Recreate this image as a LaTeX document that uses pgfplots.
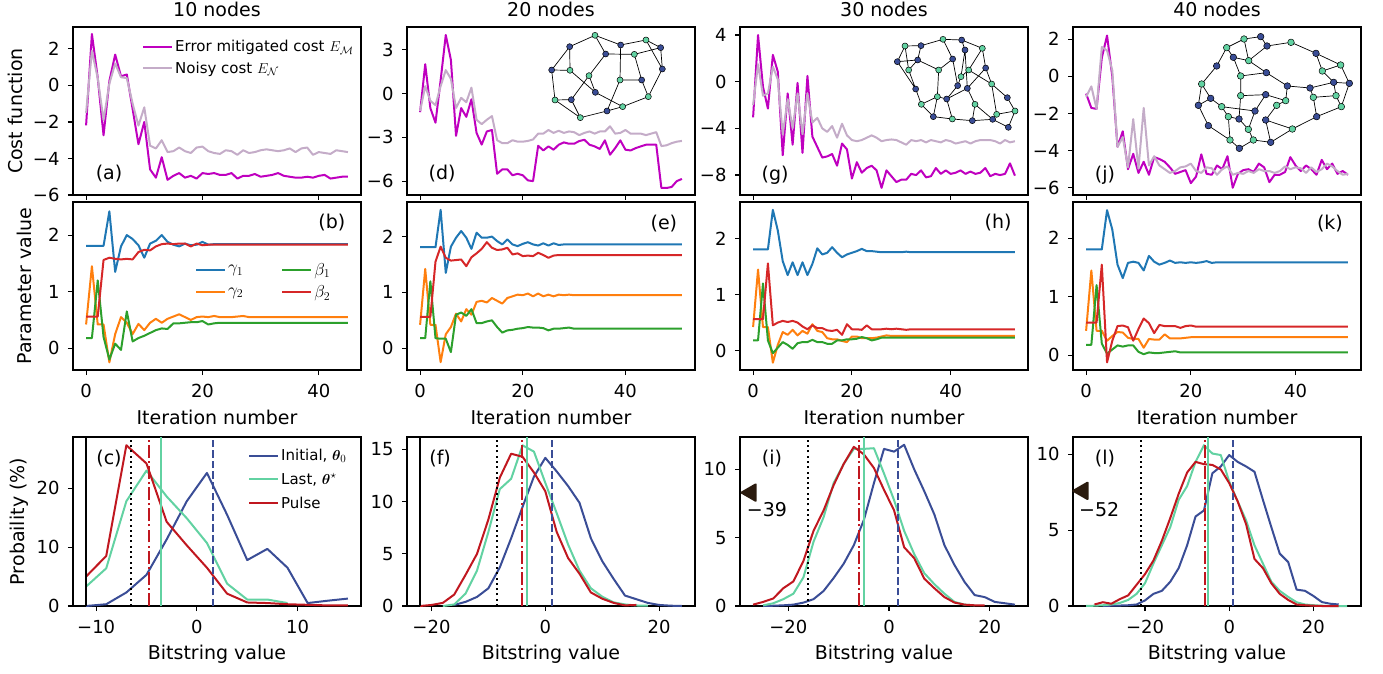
\documentclass[border=0pt]{standalone}
\usepackage{amsmath,bm}
\usepackage{pgfplots}
\usepackage{pgfplotstable}
\pgfplotsset{compat=1.18}
\usepackage{fontspec}
\setmainfont{DejaVu Sans}
\definecolor{cM}{HTML}{BF00BF}
\definecolor{cN}{HTML}{C4ACC8}
\definecolor{c0}{HTML}{1F77B4}
\definecolor{c1}{HTML}{FF7F0E}
\definecolor{c2}{HTML}{2CA02C}
\definecolor{c3}{HTML}{D62728}
\definecolor{cI}{HTML}{3A4D96}
\definecolor{cL}{HTML}{62D2A2}
\definecolor{cP}{HTML}{C0171F}
\definecolor{cA}{HTML}{2B1B0E}
\newcommand{\tf}{\fontsize{18}{21}\selectfont}
\newcommand{\lf}{\fontsize{19}{22}\selectfont}
\newcommand{\gf}{\fontsize{15}{18}\selectfont}
\newcommand{\gbf}{\fontsize{18}{21}\selectfont}

\pgfplotstableread{
i m n
0 -2.19 -1.5
1 2.82 1.9
2 0.42 0.4
3 -2.73 -1.9
4 0.24 0.1
5 1.69 1.2
6 0.5 0.45
7 0.6 0.4
8 -1.3 -1.0
9 -3.22 -2.2
10 -2.0 -1.2
11 -4.6 -3.3
12 -5.05 -3.45
13 -3.93 -3.0
14 -5.17 -3.65
15 -4.95 -3.6
16 -4.8 -3.4
17 -5.05 -3.6
18 -4.95 -3.7
19 -5.1 -3.4
20 -4.8 -3.35
21 -4.85 -3.6
22 -4.8 -3.7
23 -4.9 -3.75
24 -4.9 -3.55
25 -4.8 -3.6
26 -5.1 -3.8
27 -4.95 -3.55
28 -4.95 -3.7
29 -4.85 -3.65
30 -5.0 -3.55
31 -4.95 -3.5
32 -4.9 -3.55
33 -4.8 -3.6
34 -4.95 -3.55
35 -5.0 -3.45
36 -5.05 -3.65
37 -5.05 -3.45
38 -5.0 -3.4
39 -5.05 -3.8
40 -4.95 -3.65
41 -4.9 -3.7
42 -5.1 -3.75
43 -5.05 -3.55
44 -5.0 -3.6
45 -5.0 -3.65
}\tA

\pgfplotstableread{
i g1 g2 b1 b2
0 1.81 0.42 0.18 0.56
1 1.81 1.45 0.18 0.56
2 1.81 0.42 1.20 0.56
3 1.81 0.42 0.20 1.56
4 2.42 -0.25 -0.20 1.60
5 1.35 0.25 0.08 1.58
6 1.80 0.55 -0.03 1.57
7 2.00 0.45 0.65 1.58
8 1.93 0.25 0.12 1.57
9 1.82 0.43 0.18 1.70
10 1.60 0.32 0.22 1.74
11 1.85 0.45 0.27 1.73
12 1.90 0.52 0.32 1.80
13 2.00 0.45 0.35 1.84
14 1.88 0.52 0.34 1.85
15 1.83 0.56 0.44 1.84
16 1.80 0.60 0.44 1.85
17 1.85 0.55 0.45 1.85
18 1.82 0.50 0.46 1.80
19 1.83 0.55 0.46 1.85
20 1.88 0.56 0.48 1.82
21 1.83 0.55 0.42 1.83
22 1.84 0.57 0.44 1.83
23 1.84 0.55 0.45 1.83
24 1.84 0.55 0.45 1.83
25 1.84 0.55 0.45 1.83
26 1.84 0.56 0.45 1.83
27 1.84 0.57 0.45 1.83
28 1.84 0.55 0.45 1.83
29 1.84 0.55 0.45 1.83
30 1.84 0.55 0.45 1.83
35 1.84 0.55 0.45 1.83
40 1.84 0.55 0.45 1.83
45 1.84 0.55 0.45 1.83
}\tB

\pgfplotstableread{
i m n
0 -1.28 -1.2
1 2.0 0.5
2 -1.0 -0.5
3 -2.0 -0.8
4 0.9 0.5
5 4.0 1.6
6 2.3 1.0
7 -2.9 -1.0
8 -1.0 -0.3
9 -1.6 -0.6
10 -0.4 0.4
11 -2.7 -1.8
12 -3.5 -2.1
13 -2.6 -1.8
14 -2.5 -1.55
15 -5.5 -3.2
16 -5.2 -3.4
17 -5.2 -3.4
18 -5.6 -3.2
19 -5.5 -3.3
20 -5.6 -3.3
21 -5.95 -3.25
22 -6.0 -3.15
23 -3.58 -2.75
24 -3.9 -2.75
25 -3.62 -2.5
26 -3.85 -2.7
27 -3.51 -2.55
28 -3.35 -2.7
29 -3.44 -2.6
30 -3.44 -2.65
31 -3.26 -2.85
32 -3.17 -2.7
33 -3.51 -2.6
34 -3.62 -2.75
35 -3.8 -2.6
36 -3.21 -2.6
37 -4.19 -2.25
38 -3.74 -2.75
39 -3.21 -2.7
40 -3.85 -2.5
41 -3.9 -2.75
42 -3.74 -2.75
43 -3.62 -2.75
44 -3.51 -2.85
45 -3.51 -2.75
46 -3.51 -2.65
47 -6.47 -3.6
48 -6.47 -3.55
49 -6.4 -3.4
50 -6.0 -3.3
51 -5.85 -3.25
}\tD

\pgfplotstableread{
i g1 g2 b1 b2
0 1.81 0.42 0.18 0.56
1 1.81 1.42 0.18 0.56
2 1.81 0.42 1.20 0.56
3 1.81 0.42 0.18 1.55
4 2.48 -0.25 0.17 1.82
5 1.35 0.25 0.17 1.62
6 1.82 0.38 -0.07 1.57
7 1.98 0.62 0.60 1.58
8 2.10 0.48 0.64 1.59
9 1.98 0.70 0.58 1.47
10 1.78 0.60 0.70 1.63
11 2.07 0.83 0.45 1.70
12 1.98 0.85 0.45 1.78
13 1.98 0.82 0.48 1.90
14 2.00 0.90 0.50 1.80
15 1.92 0.85 0.38 1.76
16 1.86 0.80 0.28 1.77
17 1.95 0.90 0.32 1.80
18 1.86 0.93 0.33 1.68
19 1.83 0.96 0.35 1.70
20 1.87 0.95 0.36 1.65
21 1.90 0.98 0.38 1.66
22 1.86 0.93 0.37 1.65
23 1.84 0.98 0.37 1.71
24 1.88 0.93 0.36 1.67
25 1.84 0.96 0.32 1.62
26 1.88 0.93 0.35 1.66
27 1.85 0.96 0.35 1.67
28 1.86 0.95 0.36 1.67
29 1.86 0.96 0.37 1.67
30 1.86 0.95 0.35 1.67
40 1.86 0.95 0.35 1.67
51 1.86 0.95 0.35 1.67
}\tE

\pgfplotstableread{
i m n
0 -3.06 -2.0
1 4.0 1.5
2 -0.43 -1.2
3 -2.3 -1.0
4 2.3 1.3
5 0.86 0.2
6 -6.3 -4.5
7 -1.0 -1.5
8 -5.4 -4.0
9 -0.1 -1.0
10 -6.1 -4.5
11 0.5 -1.0
12 -4.7 -3.5
13 -5.6 -3.1
14 -6.5 -4.0
15 -6.4 -4.3
16 -6.2 -3.8
17 -7.2 -4.8
18 -5.3 -3.6
19 -5.8 -4.6
20 -8.3 -5.0
21 -6.9 -5.1
22 -7.8 -5.0
23 -7.4 -4.8
24 -7.2 -4.6
25 -7.6 -4.8
26 -9.1 -5.1
27 -7.6 -5.0
28 -8.1 -4.95
29 -8.6 -5.0
30 -8.4 -5.2
31 -8.4 -5.4
32 -7.9 -5.0
33 -8.0 -5.1
34 -7.6 -5.0
35 -8.2 -5.2
36 -8.1 -5.0
37 -7.4 -5.1
38 -7.9 -5.2
39 -7.6 -5.0
40 -7.9 -5.1
41 -7.8 -5.3
42 -7.6 -5.2
43 -7.9 -5.1
44 -7.7 -5.3
45 -7.9 -5.1
46 -7.8 -5.0
47 -7.4 -5.0
48 -8.1 -5.0
49 -7.9 -5.1
50 -8.0 -5.3
51 -7.9 -5.0
52 -7.0 -5.2
53 -8.05 -5.1
}\tG

\pgfplotstableread{
i g1 g2 b1 b2
0 1.81 0.42 0.18 0.56
1 1.81 1.45 0.18 0.56
2 1.81 0.42 1.20 0.56
3 1.81 0.42 0.18 1.56
4 2.52 -0.22 -0.05 0.45
5 2.15 0.10 0.05 0.50
6 1.60 0.33 0.15 0.53
7 1.35 0.28 0.10 0.51
8 1.58 0.37 0.03 0.53
9 1.35 0.27 0.13 0.50
10 1.58 0.35 0.15 0.43
11 1.35 0.30 0.15 0.38
12 1.55 0.47 0.19 0.45
13 1.83 0.35 0.15 0.40
14 1.72 0.33 0.15 0.40
15 1.75 0.22 0.12 0.36
16 1.85 0.20 0.12 0.35
17 1.75 0.20 0.18 0.37
18 1.67 0.17 0.18 0.28
19 1.72 0.15 0.20 0.47
20 1.75 0.25 0.20 0.38
21 1.78 0.25 0.21 0.38
22 1.82 0.22 0.24 0.37
23 1.78 0.22 0.22 0.45
24 1.78 0.22 0.18 0.38
25 1.77 0.23 0.20 0.38
26 1.76 0.25 0.23 0.38
27 1.76 0.27 0.23 0.39
28 1.76 0.26 0.23 0.38
29 1.76 0.26 0.23 0.39
30 1.76 0.26 0.23 0.38
31 1.77 0.26 0.23 0.37
32 1.76 0.26 0.23 0.38
40 1.76 0.26 0.23 0.38
53 1.76 0.26 0.23 0.38
}\tH

\pgfplotstableread{
i m n
0 -0.93 -1.1
1 -1.7 -0.54
2 -1.75 -1.75
3 1.0 1.58
4 2.2 1.4
5 0.0 0.32
6 -3.8 -3.8
7 -2.96 -3.27
8 -5.0 -4.9
9 -4.17 -2.3
10 -5.2 -4.97
11 -4.6 -1.7
12 -5.3 -4.8
13 -4.35 -4.3
14 -4.45 -4.8
15 -4.6 -5.0
16 -4.9 -5.2
17 -5.25 -5.1
18 -5.15 -4.9
19 -5.05 -4.85
20 -5.75 -4.7
21 -5.4 -5.1
22 -4.2 -5.2
23 -5.25 -4.9
24 -5.3 -4.95
25 -4.8 -5.3
26 -5.0 -5.0
27 -4.3 -4.85
28 -6.0 -5.3
29 -5.25 -5.2
30 -5.05 -5.25
31 -5.0 -5.1
32 -5.15 -5.2
33 -4.7 -5.0
34 -4.9 -5.1
35 -5.7 -5.1
36 -5.3 -5.2
37 -5.3 -5.1
38 -5.15 -4.85
39 -4.35 -5.0
40 -4.8 -4.9
41 -5.1 -4.95
42 -4.8 -5.2
43 -5.0 -4.9
44 -5.3 -5.15
45 -4.5 -5.0
46 -5.0 -4.7
47 -4.7 -4.85
48 -5.25 -5.1
49 -5.1 -5.3
50 -5.3 -5.25
}\tJ

\pgfplotstableread{
i g1 g2 b1 b2
0 1.81 0.42 0.18 0.56
1 1.81 1.45 0.18 0.56
2 1.81 0.42 1.20 0.56
3 1.81 0.42 0.20 1.55
4 2.48 0.25 0.03 -0.12
5 2.15 0.33 0.10 0.25
6 1.55 0.40 0.17 0.50
7 1.32 0.39 0.15 0.51
8 1.58 0.30 0.17 0.48
9 1.60 0.28 0.17 0.25
10 1.58 0.28 0.06 0.45
11 1.45 0.13 0.02 0.63
12 1.70 0.28 0.05 0.55
13 1.60 0.27 0.04 0.38
14 1.55 0.27 0.04 0.52
15 1.58 0.36 0.05 0.50
16 1.62 0.29 0.06 0.50
17 1.58 0.29 0.07 0.50
18 1.59 0.29 0.05 0.47
19 1.58 0.30 0.05 0.50
20 1.59 0.31 0.05 0.51
21 1.58 0.31 0.05 0.49
22 1.59 0.31 0.05 0.49
23 1.61 0.31 0.05 0.49
24 1.58 0.31 0.05 0.49
25 1.59 0.31 0.05 0.49
40 1.59 0.31 0.05 0.49
50 1.59 0.31 0.05 0.49
}\tK

\pgfplotsset{
  P/.style={
    scale only axis, width=288pt, height=168pt, anchor=south west,
    tick align=outside, tick pos=left, major tick length=5pt,
    axis line style={line width=1.1pt},
    every tick/.style={black, line width=1.1pt},
    tick label style={font=\tf},
    yticklabel style={xshift=-5pt},
    xticklabel style={yshift=-6pt},
    label style={font=\lf},
    title style={font=\lf, at={(axis description cs:0.5,1.061)}, anchor=base, yshift=-6pt},
    every axis plot/.append style={line width=2pt, line join=round},
    legend image code/.code={\draw[##1] (0pt,0pt) -- (29pt,0pt);},
    legend style={draw=none, fill=none, font=\gf, inner sep=0pt},
    legend cell align=left,
  },
  R1/.style={P, xtick={0,20,40}, xticklabels={}},
  R2/.style={P, xtick={0,20,40}, xticklabels={0,20,40}, ytick={0,1,2}, yticklabels={0,1,2},
    xlabel={Iteration number}, xlabel style={at={(axis description cs:0.5,-0.327)}, anchor=base}},
  R3/.style={P, height=169pt, ymin=0, clip=false, xlabel={Bitstring value},
    xlabel style={at={(axis description cs:0.5,-0.315)}, anchor=base}},
  G/.style={hide axis, scale only axis, clip=false, anchor=south west},
  NT/.style={only marks, mark=*, mark size=3pt, mark options={fill=cL, draw=black, line width=0.5pt}},
  NN/.style={only marks, mark=*, mark size=3pt, mark options={fill=cI, draw=black, line width=0.5pt}},
  ED/.style={black, line width=0.7pt, unbounded coords=jump},
  dsh/.style={dash pattern=on 7.4pt off 3.2pt},
  dtt/.style={dash pattern=on 2pt off 3.3pt},
  dsd/.style={dash pattern=on 12.8pt off 3.2pt on 2pt off 3.2pt},
}

\begin{document}
\begin{tikzpicture}
\useasboundingbox (0,0) rectangle (1383pt,673pt);

% ---------------- column 1 ----------------
\begin{axis}[R1, at={(73pt,478pt)}, xmin=-2.25, xmax=47.25, ymin=-6, ymax=3.2,
  ytick={-6,-4,-2,0,2}, yticklabels={−6,−4,−2,0,2},
  ylabel={Cost function}, ylabel style={at={(axis description cs:-0.201,0.5)}, anchor=center},
  title={10 nodes},
  legend style={at={(axis description cs:0.2396,0.935)}, anchor=north west, row sep=5pt}]
\addplot[cM] table[x=i,y=m] {\tA};
\addlegendentry{Error mitigated cost $E_{\mathcal{M}}$}
\addplot[cN] table[x=i,y=n] {\tA};
\addlegendentry{Noisy cost $E_{\mathcal{N}}$}
\node[font=\lf] at (axis description cs:0.125,0.125) {(a)};
\end{axis}

\begin{axis}[R2, at={(73pt,303pt)}, xmin=-2.25, xmax=47.25, ymin=-0.385, ymax=2.585,
  ylabel={Parameter value}, ylabel style={at={(axis description cs:-0.168,0.5)}, anchor=center},
  legend columns=2, transpose legend,
  legend style={at={(axis description cs:0.4236,0.65)}, anchor=north west, row sep=5pt, font=\gbf,
   /tikz/column 2/.style={column sep=36pt}}]
\addplot[c0] table[x=i,y=g1] {\tB};
\addlegendentry{$\gamma_1$}
\addplot[c1] table[x=i,y=g2] {\tB};
\addlegendentry{$\gamma_2$}
\addplot[c2] table[x=i,y=b1] {\tB};
\addlegendentry{$\beta_1$}
\addplot[c3] table[x=i,y=b2] {\tB};
\addlegendentry{$\beta_2$}
\node[font=\lf] at (axis description cs:0.899,0.875) {(b)};
\end{axis}

\begin{axis}[R3, at={(73pt,67pt)}, xmin=-12.3, xmax=16.3, ymax=28.7,
  xtick={-10,0,10}, xticklabels={−10,0,10}, ytick={0,10,20}, yticklabels={0,10,20},
  ylabel={Probaility (\%)}, ylabel style={at={(axis description cs:-0.186,0.5)}, anchor=center},
  legend style={at={(axis description cs:0.6076,0.94)}, anchor=north west, row sep=7pt}]
\addplot[cI] coordinates {(-11,0) (-9,0.3) (-7,2.3) (-5,5.3) (-3,11.3) (-1,17.8) (1,22.6) (3,15.5) (5,7.8) (7,9.7) (9,6.5) (11,0.5) (13,0.9) (15,1.26)};
\addlegendentry{Initial, $\bm{\theta}_0$}
\addplot[cL] coordinates {(-11,3.3) (-9,6.4) (-7,17.8) (-5,23.0) (-3,18.6) (-1,14.9) (1,10.7) (3,3.8) (5,1.1) (7,1.1) (9,0.5)};
\addlegendentry{Last, $\bm{\theta}^{\star}$}
\addplot[cP] coordinates {(-11,5.0) (-9,8.5) (-7,27.3) (-5,24.2) (-3,14.3) (-1,10.3) (1,6.5) (3,2.1) (5,0.6) (7,0.5) (9,0.3) (11,0.2) (13,0.1) (15,0.1)};
\addlegendentry{Pulse}
\addplot[black, forget plot] coordinates {(-11,0) (-11,28.7)};
\addplot[black, dtt, forget plot] coordinates {(-6.5,0) (-6.5,28.7)};
\addplot[cP, dsd, forget plot] coordinates {(-4.75,0) (-4.75,28.7)};
\addplot[cL, forget plot] coordinates {(-3.6,0) (-3.6,28.7)};
\addplot[cI, dsh, forget plot] coordinates {(1.6,0) (1.6,28.7)};
\node[font=\lf] at (axis description cs:0.125,0.875) {(c)};
\end{axis}

% ---------------- column 2 ----------------
\begin{axis}[R1, at={(407pt,478pt)}, xmin=-2.55, xmax=53.55, ymin=-6.95, ymax=4.55,
  ytick={-6,-3,0,3}, yticklabels={−6,−3,0,3}, title={20 nodes}]
\addplot[cM] table[x=i,y=m] {\tD};
\addplot[cN] table[x=i,y=n] {\tD};
\node[font=\lf] at (axis description cs:0.122,0.125) {(d)};
\end{axis}

\begin{axis}[R2, at={(407pt,303pt)}, xmin=-2.55, xmax=53.55, ymin=-0.39, ymax=2.62]
\addplot[c0] table[x=i,y=g1] {\tE};
\addplot[c1] table[x=i,y=g2] {\tE};
\addplot[c2] table[x=i,y=b1] {\tE};
\addplot[c3] table[x=i,y=b2] {\tE};
\node[font=\lf] at (axis description cs:0.892,0.869) {(e)};
\end{axis}

\begin{axis}[R3, at={(407pt,67pt)}, xmin=-24.3, xmax=26.3, ymax=16.2,
  xtick={-20,0,20}, xticklabels={−20,0,20}, ytick={0,5,10,15}, yticklabels={0,5,10,15}]
\addplot[cI] coordinates {(-16,0.1) (-14,0.4) (-12,0.87) (-10,1.7) (-8,3.7) (-6,6.5) (-4,9.5) (-2,12.4) (0,14.2) (2,12.9) (4,11.5) (6,9.9) (8,6.5) (10,4.3) (12,2.6) (14,1.0) (16,0.65) (18,0.3) (20,0.1) (22,0.03) (24,0.0)};
\addplot[cL] coordinates {(-18,0.0) (-16,0.15) (-14,1.2) (-12,3.4) (-10,7.1) (-8,11.2) (-6,12.2) (-4,15.4) (-2,14.8) (0,11.8) (2,8.9) (4,5.9) (6,3.4) (8,1.7) (10,0.9) (12,0.35) (14,0.15) (16,0.05) (18,0.03)};
\addplot[cP] coordinates {(-22,0.0) (-20,0.1) (-18,0.3) (-16,1.1) (-14,3.0) (-12,5.0) (-10,8.3) (-8,12.3) (-6,14.6) (-4,14.3) (-2,12.8) (0,11.0) (2,7.1) (4,4.6) (6,3.1) (8,1.3) (10,0.7) (12,0.3) (14,0.06) (16,0.1)};
\addplot[black] coordinates {(-22,0) (-22,16.2)};
\addplot[black, dtt] coordinates {(-8.5,0) (-8.5,16.2)};
\addplot[cP, dsd] coordinates {(-4.06,0) (-4.06,16.2)};
\addplot[cL] coordinates {(-3.2,0) (-3.2,16.2)};
\addplot[cI, dsh] coordinates {(1.24,0) (1.24,16.2)};
\node[font=\lf] at (axis description cs:0.115,0.875) {(f)};
\end{axis}

% ---------------- column 3 ----------------
\begin{axis}[R1, at={(740pt,478pt)}, xmin=-2.65, xmax=55.65, ymin=-9.71, ymax=4.69,
  ytick={-8,-4,0,4}, yticklabels={−8,−4,0,4}, title={30 nodes}]
\addplot[cM] table[x=i,y=m] {\tG};
\addplot[cN] table[x=i,y=n] {\tG};
\node[font=\lf] at (axis description cs:0.122,0.119) {(g)};
\end{axis}

\begin{axis}[R2, at={(740pt,303pt)}, xmin=-2.65, xmax=55.65, ymin=-0.35, ymax=2.66]
\addplot[c0] table[x=i,y=g1] {\tH};
\addplot[c1] table[x=i,y=g2] {\tH};
\addplot[c2] table[x=i,y=b1] {\tH};
\addplot[c3] table[x=i,y=b2] {\tH};
\node[font=\lf] at (axis description cs:0.896,0.875) {(h)};
\end{axis}

\begin{axis}[R3, at={(740pt,67pt)}, xmin=-29.6, xmax=27.6, ymax=12.37,
  xtick={-20,0,20}, xticklabels={−20,0,20}, ytick={0,5,10}, yticklabels={0,5,10}]
\addplot[cI] coordinates {(-25,0.0) (-23,0.02) (-21,0.05) (-19,0.1) (-17,0.25) (-15,0.5) (-13,1.1) (-11,2.05) (-9,3.1) (-7,4.45) (-5,6.3) (-3,9.0) (-1,11.5) (1,11.3) (3,11.8) (5,10.0) (7,8.4) (9,6.7) (11,4.45) (13,3.0) (15,1.76) (17,0.8) (19,0.65) (21,0.3) (23,0.2) (25,0.1)};
\addplot[cL] coordinates {(-25,0.05) (-23,0.2) (-21,0.5) (-19,0.9) (-17,2.1) (-15,4.7) (-13,6.5) (-11,9.0) (-9,10.4) (-7,11.5) (-5,11.5) (-3,11.55) (-1,9.7) (1,7.75) (3,5.5) (5,3.8) (7,2.4) (9,1.6) (11,0.9) (13,0.3) (15,0.1) (17,0.05)};
\addplot[cP] coordinates {(-27,0.1) (-25,0.3) (-23,0.55) (-21,1.3) (-19,1.8) (-17,3.3) (-15,5.5) (-13,7.0) (-11,8.85) (-9,10.4) (-7,11.65) (-5,11.1) (-3,10.1) (-1,8.5) (1,7.0) (3,4.3) (5,3.5) (7,2.0) (9,1.3) (11,0.65) (13,0.25) (15,0.1) (17,0.05) (19,0.05)};
\addplot[black, dtt] coordinates {(-16,0) (-16,12.37)};
\addplot[cP, dsd] coordinates {(-6,0) (-6,12.37)};
\addplot[cL] coordinates {(-5,0) (-5,12.37)};
\addplot[cI, dsh] coordinates {(1.8,0) (1.8,12.37)};
\addplot[cA, only marks, mark=triangle*, mark size=9.5pt, mark options={rotate=90}] coordinates {(-27.42,8.3)};
\node[font=\lf, anchor=base west, inner sep=0pt] at (axis cs:-28.26,6.52) {−39};
\node[font=\lf] at (axis description cs:0.111,0.875) {(i)};
\end{axis}

% ---------------- column 4 ----------------
\begin{axis}[R1, at={(1073pt,478pt)}, xmin=-2.5, xmax=52.5, ymin=-6.39, ymax=2.66,
  ytick={-6,-4,-2,0,2}, yticklabels={−6,−4,−2,0,2}, title={40 nodes}]
\addplot[cM] table[x=i,y=m] {\tJ};
\addplot[cN] table[x=i,y=n] {\tJ};
\node[font=\lf] at (axis description cs:0.111,0.119) {(j)};
\end{axis}

\begin{axis}[R2, at={(1073pt,303pt)}, xmin=-2.5, xmax=52.5, ymin=-0.25, ymax=2.62]
\addplot[c0] table[x=i,y=g1] {\tK};
\addplot[c1] table[x=i,y=g2] {\tK};
\addplot[c2] table[x=i,y=b1] {\tK};
\addplot[c3] table[x=i,y=b2] {\tK};
\node[font=\lf] at (axis description cs:0.892,0.869) {(k)};
\end{axis}

\begin{axis}[R3, at={(1073pt,67pt)}, xmin=-37.1, xmax=31.3, ymax=11.14,
  xtick={-20,0,20}, xticklabels={−20,0,20}, ytick={0,5,10}, yticklabels={0,5,10}]
\addplot[cI] coordinates {(-30,0.0) (-28,0.02) (-26,0.03) (-24,0.05) (-22,0.1) (-20,0.37) (-18,0.8) (-16,1.0) (-14,1.6) (-12,2.5) (-10,4.0) (-8,5.9) (-6,6.3) (-4,8.75) (-2,9.2) (0,9.95) (2,9.5) (4,9.2) (6,8.85) (8,7.0) (10,5.2) (12,3.45) (14,2.9) (16,1.08) (18,1.0) (20,0.66) (22,0.26) (24,0.15) (26,0.1)};
\addplot[cL] coordinates {(-34,0.0) (-32,0.02) (-30,0.05) (-28,0.1) (-26,0.2) (-24,0.4) (-22,0.8) (-20,1.5) (-18,2.8) (-16,4.0) (-14,5.2) (-12,7.0) (-10,7.9) (-8,9.5) (-6,10.6) (-4,10.05) (-2,9.95) (0,8.2) (2,6.9) (4,5.65) (6,4.0) (8,2.8) (10,1.6) (12,1.0) (14,0.6) (16,0.25) (18,0.1) (20,0.05) (22,0.02) (24,0.0) (26,0.0) (28,0.0)};
\addplot[cP] coordinates {(-32,0.1) (-30,0.25) (-28,0.15) (-26,0.45) (-24,0.7) (-22,1.4) (-20,2.1) (-18,3.0) (-16,4.3) (-14,5.8) (-12,7.4) (-10,8.8) (-8,9.5) (-6,9.35) (-4,9.3) (-2,9.0) (0,8.1) (2,6.9) (4,5.4) (6,3.1) (8,2.5) (10,1.5) (12,0.8) (14,0.4) (16,0.1) (18,0.05) (20,0.02) (22,0.0) (24,0.0) (26,0.0)};
\addplot[black, dtt] coordinates {(-21,0) (-21,11.14)};
\addplot[cP, dsd] coordinates {(-5.7,0) (-5.7,11.14)};
\addplot[cL] coordinates {(-5.15,0) (-5.15,11.14)};
\addplot[cI, dsh] coordinates {(0.8,0) (0.8,11.14)};
\addplot[cA, only marks, mark=triangle*, mark size=9.5pt, mark options={rotate=90}] coordinates {(-34.77,7.59)};
\node[font=\lf, anchor=base west, inner sep=0pt] at (axis cs:-35.67,5.93) {−52};
\node[font=\lf] at (axis description cs:0.111,0.875) {(l)};
\end{axis}

% ---------------- inset graphs ----------------
\begin{axis}[G, at={(540pt,549.67pt)}, width=133.33pt, height=93.33pt, xmin=600, xmax=1000, ymin=-370, ymax=-90]
\addplot[ED] coordinates {
(765,-106) (689,-140) (nan,nan) (765,-106) (797,-162) (nan,nan) (765,-106) (842,-135) (nan,nan)
(689,-140) (635,-210) (nan,nan) (689,-140) (690,-211) (nan,nan) (842,-135) (918,-120) (nan,nan)
(842,-135) (840,-240) (nan,nan) (918,-120) (962,-143) (nan,nan) (918,-120) (967,-207) (nan,nan)
(962,-143) (967,-207) (nan,nan) (962,-143) (883,-163) (nan,nan) (797,-162) (883,-163) (nan,nan)
(797,-162) (747,-227) (nan,nan) (883,-163) (905,-240) (nan,nan) (635,-210) (690,-211) (nan,nan)
(635,-210) (645,-300) (nan,nan) (690,-211) (766,-277) (nan,nan) (747,-227) (766,-277) (nan,nan)
(747,-227) (694,-299) (nan,nan) (967,-207) (925,-290) (nan,nan) (840,-240) (905,-240) (nan,nan)
(840,-240) (801,-333) (nan,nan) (905,-240) (925,-290) (nan,nan) (766,-277) (848,-320) (nan,nan)
(645,-300) (694,-299) (nan,nan) (645,-300) (721,-353) (nan,nan) (694,-299) (721,-353) (nan,nan)
(925,-290) (848,-320) (nan,nan) (848,-320) (801,-333) (nan,nan) (801,-333) (721,-353)
};
\addplot[NT] coordinates {(765,-106) (918,-120) (883,-163) (690,-211) (747,-227) (840,-240) (645,-300) (925,-290) (848,-320) (721,-353)};
\addplot[NN] coordinates {(689,-140) (842,-135) (962,-143) (797,-162) (635,-210) (967,-207) (905,-240) (766,-277) (694,-299) (801,-333)};
\end{axis}

\begin{axis}[G, at={(890pt,539.67pt)}, width=133.33pt, height=100pt, xmin=630, xmax=1030, ymin=-400, ymax=-100]
\addplot[ED] coordinates {
(675,-138) (723,-137) (nan,nan) (675,-138) (652,-185) (nan,nan) (675,-138) (686,-210) (nan,nan)
(723,-137) (789,-118) (nan,nan) (723,-137) (713,-180) (nan,nan) (789,-118) (845,-120) (nan,nan)
(789,-118) (818,-177) (nan,nan) (845,-120) (907,-145) (nan,nan) (845,-120) (855,-150) (nan,nan)
(907,-145) (866,-210) (nan,nan) (907,-145) (917,-204) (nan,nan) (855,-150) (843,-230) (nan,nan)
(855,-150) (862,-265) (nan,nan) (652,-185) (713,-180) (nan,nan) (652,-185) (707,-267) (nan,nan)
(713,-180) (776,-210) (nan,nan) (686,-210) (707,-267) (nan,nan) (686,-210) (713,-180) (nan,nan)
(818,-177) (776,-210) (nan,nan) (818,-177) (833,-257) (nan,nan) (776,-210) (772,-290) (nan,nan)
(866,-210) (843,-230) (nan,nan) (866,-210) (935,-252) (nan,nan) (917,-204) (935,-252) (nan,nan)
(917,-204) (862,-265) (nan,nan) (935,-252) (982,-293) (nan,nan) (935,-252) (950,-343) (nan,nan)
(843,-230) (833,-257) (nan,nan) (833,-257) (800,-297) (nan,nan) (862,-265) (800,-297) (nan,nan)
(862,-265) (885,-313) (nan,nan) (707,-267) (724,-313) (nan,nan) (772,-290) (800,-297) (nan,nan)
(772,-290) (724,-313) (nan,nan) (772,-290) (760,-350) (nan,nan) (724,-313) (760,-350) (nan,nan)
(885,-313) (877,-362) (nan,nan) (885,-313) (938,-358) (nan,nan) (982,-293) (1005,-333) (nan,nan)
(1005,-333) (950,-343) (nan,nan) (1005,-333) (985,-382) (nan,nan) (950,-343) (938,-358) (nan,nan)
(760,-350) (817,-357) (nan,nan) (817,-357) (877,-362) (nan,nan) (817,-357) (800,-297) (nan,nan)
(877,-362) (938,-358) (nan,nan) (938,-358) (985,-382)
};
\addplot[NT] coordinates {(675,-138) (789,-118) (907,-145) (686,-210) (776,-210) (866,-210) (843,-230) (935,-252) (772,-290) (724,-313) (885,-313) (1005,-333) (950,-343) (817,-357)};
\addplot[NN] coordinates {(723,-137) (845,-120) (855,-150) (652,-185) (713,-180) (818,-177) (917,-204) (833,-257) (862,-265) (707,-267) (800,-297) (982,-293) (760,-350) (877,-362) (938,-358) (985,-382)};
\end{axis}

\begin{axis}[G, at={(1193.33pt,519.67pt)}, width=160pt, height=121.67pt, xmin=520, xmax=1000, ymin=-460, ymax=-95]
\addplot[ED] coordinates {
(620,-143) (672,-117) (nan,nan) (620,-143) (640,-172) (nan,nan) (620,-143) (590,-198) (nan,nan)
(672,-117) (722,-110) (nan,nan) (672,-117) (686,-182) (nan,nan) (722,-110) (741,-138) (nan,nan)
(741,-138) (813,-127) (nan,nan) (741,-138) (686,-182) (nan,nan) (813,-127) (888,-160) (nan,nan)
(640,-172) (686,-182) (nan,nan) (640,-172) (662,-228) (nan,nan) (686,-182) (739,-218) (nan,nan)
(888,-160) (962,-195) (nan,nan) (888,-160) (907,-213) (nan,nan) (590,-198) (545,-252) (nan,nan)
(962,-195) (907,-213) (nan,nan) (962,-195) (988,-250) (nan,nan) (662,-228) (662,-287) (nan,nan)
(662,-228) (739,-218) (nan,nan) (739,-218) (802,-258) (nan,nan) (907,-213) (941,-247) (nan,nan)
(941,-247) (988,-250) (nan,nan) (941,-247) (870,-264) (nan,nan) (988,-250) (964,-320) (nan,nan)
(802,-258) (870,-264) (nan,nan) (802,-258) (797,-302) (nan,nan) (870,-264) (880,-292) (nan,nan)
(545,-252) (572,-295) (nan,nan) (545,-252) (535,-316) (nan,nan) (662,-287) (737,-284) (nan,nan)
(662,-287) (657,-357) (nan,nan) (737,-284) (705,-333) (nan,nan) (737,-284) (797,-302) (nan,nan)
(948,-287) (880,-292) (nan,nan) (948,-287) (964,-320) (nan,nan) (948,-287) (941,-247) (nan,nan)
(572,-295) (605,-320) (nan,nan) (572,-295) (535,-316) (nan,nan) (880,-292) (890,-350) (nan,nan)
(797,-302) (770,-316) (nan,nan) (535,-316) (565,-377) (nan,nan) (605,-320) (625,-350) (nan,nan)
(605,-320) (705,-333) (nan,nan) (770,-316) (737,-360) (nan,nan) (964,-320) (890,-350) (nan,nan)
(705,-333) (685,-388) (nan,nan) (625,-350) (657,-357) (nan,nan) (625,-350) (630,-420) (nan,nan)
(657,-357) (685,-388) (nan,nan) (737,-360) (752,-427) (nan,nan) (737,-360) (817,-387) (nan,nan)
(890,-350) (817,-387) (nan,nan) (565,-377) (630,-420) (nan,nan) (685,-388) (700,-420) (nan,nan)
(630,-420) (658,-445) (nan,nan) (700,-420) (752,-427) (nan,nan) (700,-420) (658,-445) (nan,nan)
(817,-387) (752,-427)
};
\addplot[NT, mark size=3.3pt] coordinates {(620,-143) (672,-117) (813,-127) (686,-182) (962,-195) (662,-228) (907,-213) (545,-252) (662,-287) (948,-287) (880,-292) (797,-302) (605,-320) (770,-316) (964,-320) (625,-350) (685,-388) (817,-387) (630,-420) (700,-420)};
\addplot[NN, mark size=3.3pt] coordinates {(722,-110) (741,-138) (640,-172) (888,-160) (590,-198) (739,-218) (941,-247) (988,-250) (802,-258) (870,-264) (737,-284) (572,-295) (535,-316) (705,-333) (657,-357) (737,-360) (890,-350) (565,-377) (752,-427) (658,-445)};
\end{axis}

\end{tikzpicture}
\end{document}
